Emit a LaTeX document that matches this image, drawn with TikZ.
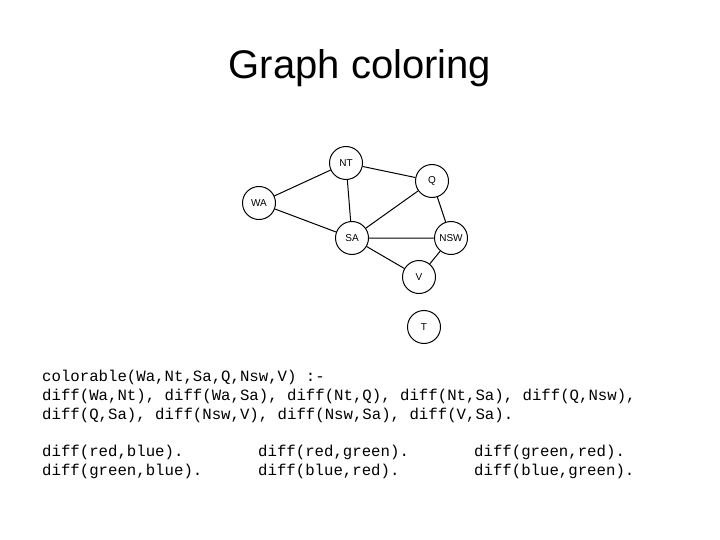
\documentclass[tikz,border=0pt]{standalone}
\usepackage{fontspec}
\setmainfont{Liberation Sans}
\newfontfamily\mono{Liberation Mono}
\begin{document}
\begin{tikzpicture}[x=1pt,y=-1pt,
  st/.style={circle,draw,line width=1pt,minimum size=33pt,inner sep=0pt,font=\fontsize{10}{12}\selectfont},
  ed/.style={line width=1pt},
  code/.style={anchor=base west,inner sep=0pt,font=\mono\fontsize{15.7}{19}\selectfont}]
\useasboundingbox (0,0) rectangle (720,540);
\node[font=\fontsize{40}{48}\selectfont] (title) at (360,68) {Graph coloring};
\node[st] (NT) at (346,163) {NT};
\node[st] (Q) at (432,181) {Q};
\node[st] (WA) at (259,203) {WA};
\node[st] (SA) at (352,238) {SA};
\node[st] (NSW) at (451,238) {NSW};
\node[st] (V) at (419,277) {V};
\node[st] (T) at (424,327) {T};
\draw[ed] (WA)--(NT) (WA)--(SA) (NT)--(SA) (NT)--(Q) (Q)--(SA) (Q)--(NSW) (SA)--(NSW) (SA)--(V) (V)--(NSW);
\node[code] (l1) at (42,381) {colorable(Wa,Nt,Sa,Q,Nsw,V) :-};
\node[code] (l2) at (42,400) {diff(Wa,Nt), diff(Wa,Sa), diff(Nt,Q), diff(Nt,Sa), diff(Q,Nsw),};
\node[code] (l3) at (42,419) {diff(Q,Sa), diff(Nsw,V), diff(Nsw,Sa), diff(V,Sa).};
\node[code] (a1) at (42,456) {diff(red,blue).};
\node[code] (a2) at (42,475) {diff(green,blue).};
\node[code] (b1) at (258,456) {diff(red,green).};
\node[code] (b2) at (258,475) {diff(blue,red).};
\node[code] (c1) at (474,456) {diff(green,red).};
\node[code] (c2) at (474,475) {diff(blue,green).};
\end{tikzpicture}
\end{document}
